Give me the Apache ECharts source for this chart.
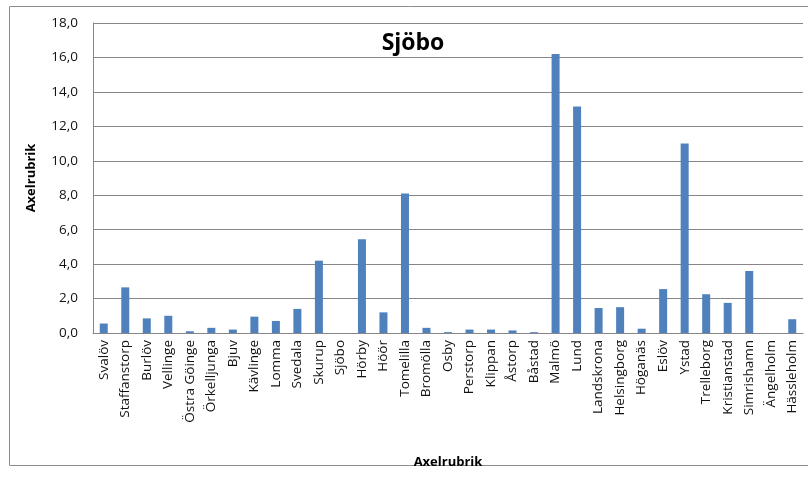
<!DOCTYPE html>
<html><head><meta charset="utf-8">
<script src="https://cdn.jsdelivr.net/npm/echarts@6/dist/echarts.min.js"></script>
<style>html,body{margin:0;padding:0;background:#fff}#c{width:808px;height:481px}</style>
</head><body><div id="c"></div>
<script>
const categories = ["Svalöv","Staffanstorp","Burlöv","Vellinge","Östra Göinge","Örkelljunga","Bjuv","Kävlinge","Lomma","Svedala","Skurup","Sjöbo","Hörby","Höör","Tomelilla","Bromölla","Osby","Perstorp","Klippan","Åstorp","Båstad","Malmö","Lund","Landskrona","Helsingborg","Höganäs","Eslöv","Ystad","Trelleborg","Kristianstad","Simrishamn","Ängelholm","Hässleholm"];
const values = [0.55,2.65,0.85,1.0,0.1,0.3,0.2,0.95,0.7,1.4,4.2,0,5.45,1.2,8.1,0.3,0.05,0.2,0.2,0.15,0.05,16.2,13.15,1.45,1.5,0.25,2.55,11.0,2.25,1.75,3.6,0,0.8];
const titleText = "Sjöbo";
const xName = "Axelrubrik";
const yName = "Axelrubrik";

const chart = echarts.init(document.getElementById('c'), null, {renderer:'canvas'});
const font = "'Open Sans', 'Liberation Sans', sans-serif";
chart.setOption({
  animation:false,
  backgroundColor:'#fff',
  graphic:[{type:'rect',shape:{x:9.5,y:6.5,width:820,height:459},style:{fill:'none',stroke:'#8c8c8c',lineWidth:1},silent:true,z:-1}],
  title:{text:titleText,left:408,top:27,textAlign:'center',textStyle:{fontFamily:font,fontWeight:'bold',fontSize:23,color:'#000'}},
  grid:{left:93,right:5,top:23,bottom:148,containLabel:false},
  xAxis:{type:'category',data:categories,
    name:xName,nameLocation:'middle',nameGap:123,
    nameTextStyle:{fontFamily:font,fontWeight:'bold',fontSize:13,color:'#000'},
    axisLine:{lineStyle:{color:'#868686'}},axisTick:{show:false},
    axisLabel:{rotate:90,interval:0,fontFamily:font,fontSize:13.5,color:'#111',margin:7}},
  yAxis:{type:'value',min:0,max:18,interval:2,
    name:yName,nameLocation:'middle',nameGap:55,
    nameTextStyle:{fontFamily:font,fontWeight:'bold',fontSize:13,color:'#000'},
    axisLine:{show:true,lineStyle:{color:'#868686'}},axisTick:{show:false},
    splitLine:{lineStyle:{color:'#868686'}},
    axisLabel:{fontFamily:font,fontSize:13.5,color:'#111',margin:15,formatter:v=>v.toFixed(1).replace('.',',')}},
  series:[{type:'bar',data:values,barWidth:8,itemStyle:{color:'#4F81BD'}}]
});
</script></body></html>
